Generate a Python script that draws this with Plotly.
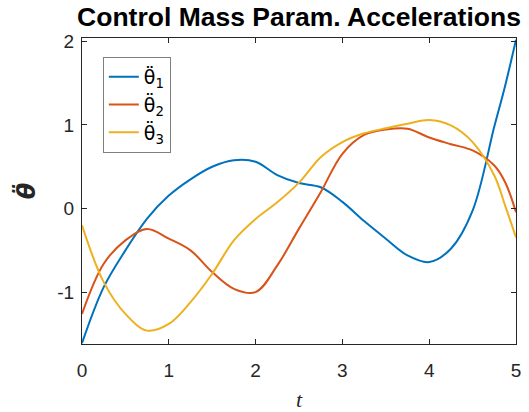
import plotly.graph_objects as go

t = [0, 0.25, 0.5, 0.75, 1.0, 1.25, 1.5, 1.75, 2.0, 2.25, 2.5, 2.75,
     3.0, 3.25, 3.5, 3.75, 4.0, 4.25, 4.5, 4.75, 4.875, 5.0]

theta1 = [-1.61, -0.94, -0.50, -0.12, 0.155, 0.35, 0.50, 0.578, 0.56, 0.40, 0.305, 0.255,
          0.08, -0.15, -0.36, -0.56, -0.64, -0.48, -0.025, 0.98, 1.47, 2.02]
theta2 = [-1.26, -0.66, -0.38, -0.245, -0.36, -0.50, -0.76, -0.96, -1.0, -0.68, -0.24, 0.195,
          0.655, 0.88, 0.945, 0.955, 0.85, 0.77, 0.695, 0.515, 0.315, -0.045]
theta3 = [-0.20, -0.88, -1.26, -1.46, -1.38, -1.12, -0.78, -0.38, -0.125, 0.075, 0.31, 0.615,
          0.795, 0.90, 0.96, 1.015, 1.06, 0.995, 0.795, 0.395, 0.035, -0.345]

names = ["θ̈<sub>1</sub>", "θ̈<sub>2</sub>", "θ̈<sub>3</sub>"]
colors = ["#0072BD", "#D95319", "#EDB120"]
xticks = [0, 1, 2, 3, 4, 5]
yticks = [-1, 0, 1, 2]

fig = go.Figure()
for v, n, c in zip([theta1, theta2, theta3], names, colors):
    fig.add_trace(go.Scatter(x=t, y=v, mode="lines", name=n,
                             line=dict(color=c, width=2, shape="spline", smoothing=1.0)))

axcol = "#262626"
mathfont = "DejaVu Sans"
fig.update_layout(
    width=529, height=412,
    margin=dict(l=82, r=13, t=38, b=68, autoexpand=False),
    paper_bgcolor="white", plot_bgcolor="white",
    title=dict(text="<b>Control Mass Param. Accelerations</b>", xref="paper", x=0.5, xanchor="center",
               yref="container", y=1 - 17 / 412, yanchor="middle",
               font=dict(family="Liberation Sans, Arial", size=26.5, color="black")),
    font=dict(family="Liberation Sans, Arial", size=19, color=axcol),
    showlegend=True,
    legend=dict(x=0.048, y=0.938, xanchor="left", yanchor="top",
                bgcolor="white", bordercolor="#7f7f7f", borderwidth=1,
                font=dict(family=mathfont, size=19, color="black"),
                tracegroupgap=0, itemwidth=30),
)
fig.update_xaxes(range=[0, 5], tickvals=xticks, ticktext=[str(x) for x in xticks],
                 automargin=False,
                 showgrid=False, zeroline=False, showline=True, linecolor=axcol, linewidth=1,
                 mirror="ticks", ticks="inside", ticklen=5, tickcolor=axcol,
                 tickfont=dict(size=19, color=axcol), ticklabelstandoff=9,
                 title=dict(text="<i>t</i>", font=dict(family="Liberation Serif, DejaVu Serif", size=22, color=axcol), standoff=12))
fig.update_yaxes(range=[-1.62, 2.04], tickvals=yticks, ticktext=[str(y) for y in yticks],
                 automargin=False,
                 showgrid=False, zeroline=False, showline=True, linecolor=axcol, linewidth=1,
                 mirror="ticks", ticks="inside", ticklen=5, tickcolor=axcol,
                 tickfont=dict(size=19, color=axcol), ticklabelstandoff=3,
                 title=dict(text="<b><i>θ̈</i></b>", font=dict(family=mathfont, size=24, color=axcol), standoff=14))

fig.write_html("out.html", config={"displayModeBar": False},
               post_script="document.body.style.margin='0';document.body.style.padding='0';")
